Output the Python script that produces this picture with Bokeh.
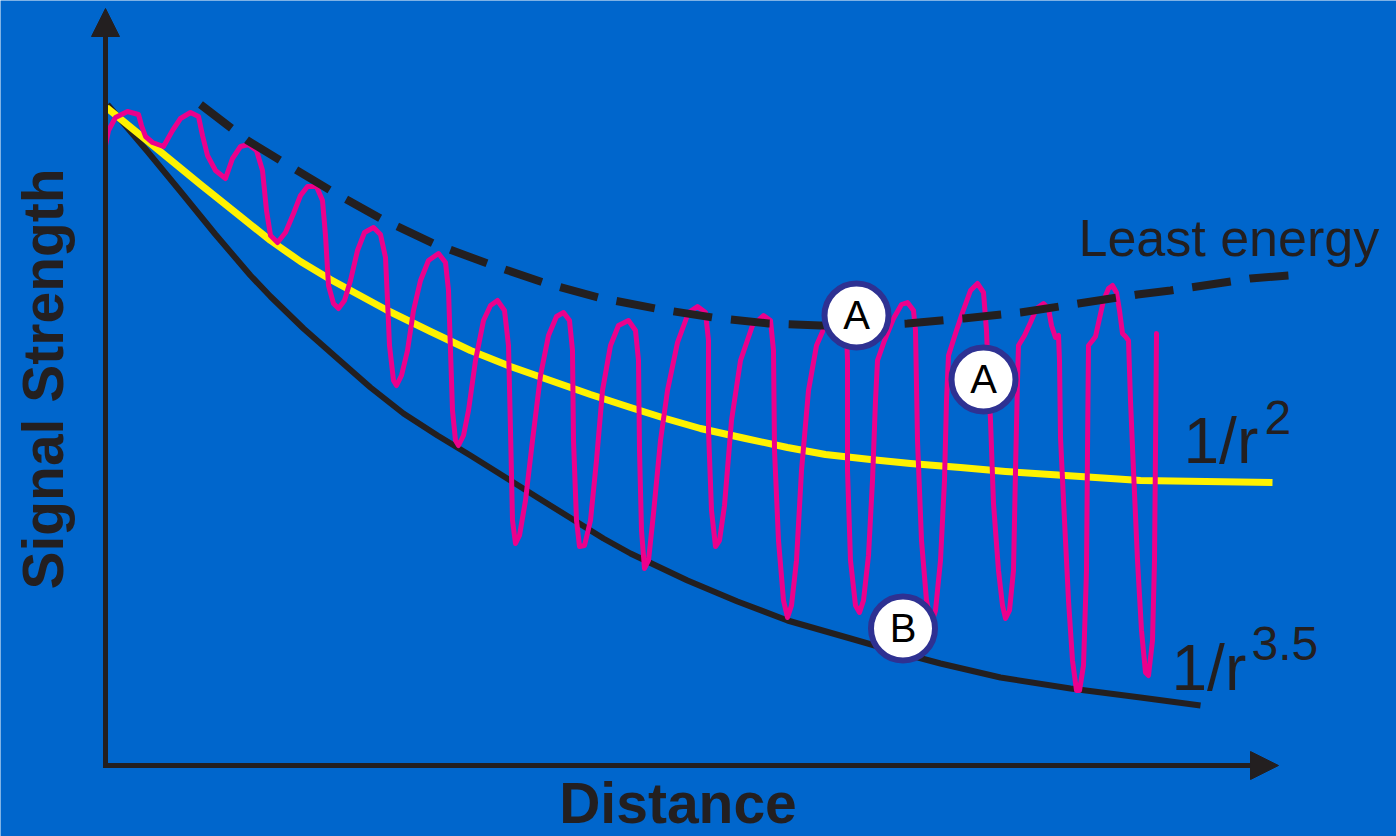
import re
import math
from bokeh.plotting import figure
from bokeh.models import Range1d, Arrow, NormalHead
from bokeh.core.properties import value
from bokeh.embed import file_html
from bokeh.resources import INLINE

# ---------------- data (arbitrary units: distance, signal strength) ----------------
# measured received signal (multipath fading)
signal_x = [0.0, 0.3, 1.0, 2.2, 3.3, 3.6, 4.0, 4.7, 5.8, 6.7, 7.5, 8.5, 9.3, 9.7, 10.2, 11.0, 12.0,
            12.7, 13.5, 14.3, 15.1, 15.7, 16.1, 16.5, 17.2, 18.0, 18.8, 19.5, 20.2, 21.1, 21.7,
            22.0, 22.3, 22.8, 23.3, 23.9, 24.5, 25.2, 25.9, 26.8, 27.5, 28.0, 28.2, 28.4, 28.8,
            29.1, 29.6, 30.2, 30.8, 31.5, 32.3, 33.3, 34.0, 34.3, 34.5, 34.7, 35.0, 35.3, 35.8,
            36.3, 37.0, 37.8, 38.5, 39.2, 39.9, 40.3, 40.5, 40.7, 41.0, 41.4, 42.0, 42.7, 43.5,
            44.3, 45.1, 45.8, 46.4, 46.7, 46.8, 47.1, 47.4, 47.9, 48.5, 49.1, 49.7, 50.5, 51.3,
            52.3, 53.0, 53.3, 53.4, 53.6, 53.9, 54.3, 54.8, 55.5, 56.2, 57.2, 58.3, 59.2, 60.0,
            60.3, 60.3, 60.6, 61.0, 61.4, 61.9, 62.6, 63.5, 64.7, 65.8, 66.5, 66.8, 66.9, 67.3,
            67.8, 68.2, 68.6, 69.1, 69.6, 70.3, 71.1, 72.1, 73.5, 74.1, 74.2, 74.2, 74.5, 75.0,
            75.4, 75.8, 76.3, 76.7, 77.0, 77.2, 77.9, 78.8, 79.6, 80.2, 80.8, 81.0, 81.2, 81.6,
            82.1, 82.6, 83.0, 83.5, 83.9, 84.1, 84.3, 85.0, 85.7, 86.5, 87.2, 87.8, 88.1, 88.3,
            88.5, 88.8, 89.3, 89.7, 90.0, 90.4, 90.8, 91.0, 91.2, 91.3, 91.9, 92.5, 93.1, 93.8,
            94.3, 94.6, 95.0, 95.3, 95.4, 95.5, 95.9, 96.3, 96.7, 97.1, 97.4, 97.8, 98.1, 98.2,
            98.3, 98.7, 99.0, 99.4, 99.8, 100.3, 100.7, 101.1, 101.4, 101.7, 102.0, 102.3, 102.5,
            102.8, 103.2, 103.6, 104.0, 104.3, 104.7, 104.9, 105.0, 105.1]
signal_y = [62.0, 63.5, 64.8, 65.4, 65.1, 64.0, 62.9, 62.3, 61.9, 63.5, 64.7, 65.3, 64.9, 63.0, 61.0,
            59.5, 58.7, 60.7, 61.9, 62.1, 61.5, 59.5, 55.5, 53.0, 52.3, 53.3, 55.2, 57.0, 57.9,
            57.9, 56.5, 53.0, 48.0, 46.2, 45.7, 46.5, 48.5, 51.5, 53.3, 53.8, 53.1, 50.8, 46.5,
            42.0, 38.5, 38.0, 39.0, 41.5, 45.5, 48.5, 50.5, 51.2, 50.3, 47.5, 41.5, 35.5, 32.5,
            32.0, 33.0, 35.5, 40.5, 44.5, 46.0, 46.5, 45.5, 42.0, 33.5, 24.5, 22.2, 23.0, 26.5,
            32.5, 39.0, 43.0, 44.9, 45.3, 44.5, 41.5, 32.5, 24.5, 21.9, 22.0, 24.5, 30.5, 37.5,
            42.0, 44.0, 44.5, 43.5, 40.5, 31.5, 23.5, 19.7, 20.5, 25.2, 32.5, 37.5, 42.3, 45.3,
            45.9, 45.3, 42.5, 33.5, 25.5, 21.9, 22.5, 26.0, 34.5, 40.5, 44.0, 45.0, 44.5, 41.5,
            31.5, 22.5, 16.5, 14.8, 16.0, 20.5, 29.5, 37.5, 42.0, 44.3, 46.5, 43.5, 40.5, 29.5,
            20.5, 16.0, 15.3, 16.5, 21.0, 28.5, 36.5, 40.5, 42.5, 44.7, 46.1, 46.3, 45.5, 43.5,
            32.5, 22.5, 16.5, 14.2, 15.5, 20.5, 28.5, 36.5, 41.0, 43.2, 45.3, 47.5, 48.2, 47.3,
            43.5, 38.5, 34.5, 26.2, 19.5, 16.0, 14.7, 15.5, 19.5, 29.5, 38.5, 42.0, 43.0, 44.3,
            45.7, 46.2, 45.7, 44.0, 42.8, 43.0, 40.5, 32.8, 24.5, 16.5, 10.5, 7.5, 7.5, 10.0,
            19.5, 31.5, 42.0, 42.5, 42.9, 44.7, 46.5, 47.7, 48.0, 47.3, 45.5, 43.2, 42.9, 42.5,
            36.5, 29.5, 20.5, 13.5, 9.3, 9.0, 12.5, 20.5, 31.5, 43.2]

# 1/r^2 path loss
inv_sq_x = [0.1, 4.5, 9.5, 13.5, 16.5, 19.5, 22.5, 28.2, 32.5, 36.5, 40.5, 44.5, 48.5, 52.5,
            56.0, 59.5, 64.0, 68.2, 72.0, 76.5, 80.5, 85.5, 90.0, 94.5, 99.0, 103.5, 110.0, 116.7]
inv_sq_y = [65.8, 62.2, 58.1, 54.9, 52.5, 50.4, 48.6, 45.5, 43.4, 41.5, 39.9, 38.5, 37.1, 35.8,
            34.7, 33.7, 32.7, 31.8, 31.1, 30.6, 30.2, 29.8, 29.4, 29.1, 28.8, 28.5, 28.4, 28.3]

# 1/r^3.5 path loss
inv_35_x = [0.2, 4.2, 7.5, 11.0, 14.5, 16.5, 19.8, 23.2, 26.5, 29.8, 33.2, 36.5, 43.2, 49.8,
            52.5, 58.2, 63.2, 68.2, 74.5, 79.0, 83.5, 89.5, 96.5, 103.5, 109.5]
inv_35_y = [66.1, 61.4, 57.4, 53.1, 49.0, 46.9, 43.7, 40.7, 37.8, 35.2, 33.0, 31.0, 26.8, 22.7,
            21.2, 18.5, 16.4, 14.5, 12.7, 11.4, 10.2, 8.8, 7.7, 6.8, 6.0]

# least-energy envelope
env_x = [9.5, 14.2, 18.5, 22.5, 27.5, 32.8, 38.2, 43.8, 49.3, 55.0, 60.7, 66.3, 71.5, 76.5,
         80.2, 85.8, 91.5, 97.3, 103.2, 106.5, 114.5, 118.3]
env_y = [66.1, 62.5, 59.9, 57.5, 54.7, 52.2, 50.2, 48.3, 46.8, 45.7, 44.8, 44.2, 44.0, 44.0,
         44.2, 44.7, 45.3, 46.2, 47.1, 47.5, 48.7, 49.0]

# marked points
mark_x = [75.1, 87.8, 79.75]
mark_y = [45.0, 38.6, 13.7]
mark_text = ["A", "A", "B"]

# ---------------- styling ----------------
BG = "#0066CC"
INK = "#231F20"
YELLOW = "#FFF200"
MAGENTA = "#EC008C"
RING = "#2E3192"
FONT = value("Liberation Sans")

p = figure(width=1396, height=836, x_range=Range1d(-10.5, 129.1), y_range=Range1d(-7.1, 76.5),
           output_backend="svg", toolbar_location=None, min_border=0,
           x_axis_type=None, y_axis_type=None,
           background_fill_color=BG, border_fill_color=BG, outline_line_color=None)
p.grid.visible = False

# axes with arrow heads
p.add_layout(Arrow(end=NormalHead(size=28, fill_color=INK, line_color=INK, line_width=1),
                   x_start=0, y_start=-0.25, x_end=0, y_end=75.7,
                   line_color=INK, line_width=5))
p.add_layout(Arrow(end=NormalHead(size=28, fill_color=INK, line_color=INK, line_width=1),
                   x_start=-0.25, y_start=0, x_end=117.3, y_end=0,
                   line_color=INK, line_width=5))

# curves
p.line(inv_35_x, inv_35_y, line_color=INK, line_width=6, line_join="round")
p.line(inv_sq_x, inv_sq_y, line_color=YELLOW, line_width=7, line_join="round")
p.line(signal_x, signal_y, line_color=MAGENTA, line_width=5, line_join="round", line_cap="round")
p.line(env_x, env_y, line_color=INK, line_width=8, line_dash="39 19")

# marker circles
p.scatter(mark_x, mark_y, marker="circle", size=64, fill_color="white",
          line_color=RING, line_width=6)
p.text(mark_x, [y + 0.05 for y in mark_y], text=mark_text, text_font=FONT,
       text_font_size="40px", text_color="#000000", text_align="center",
       text_baseline="alphabetic")

# curve labels
p.text([97.3], [52.8], text=["Least energy"], text_font=FONT, text_font_size="52px",
       text_color=INK, text_align="left", text_baseline="alphabetic")
p.text([107.8, 106.6], [32.5, 9.8], text=["1/r", "1/r"], text_font=FONT,
       text_font_size="64px", text_color=INK, text_align="left", text_baseline="alphabetic")
p.text([115.9, 114.6], [34.8, 12.2], text=["2", "3.5"], text_font=FONT,
       text_font_size="48px", text_color=INK, text_align="left", text_baseline="alphabetic")

# axis titles
p.text([57.25], [-3.7], text=["Distance"], text_font=FONT, text_font_size="57px",
       text_font_style="bold", text_color=INK, text_align="center", text_baseline="alphabetic")
p.text([-6.3], [38.65], text=["Signal Strength"], text_font=FONT, text_font_size="57px",
       text_font_style="bold", text_color=INK, text_align="center", text_baseline="alphabetic",
       angle=math.pi / 2)

html = file_html(p, INLINE, title="Signal Strength vs Distance")
html = re.sub(r"<body([^>]*)>", r'<body\1 style="background-color:#0066CC;">', html, count=1)
open("out.html", "w").write(html)
